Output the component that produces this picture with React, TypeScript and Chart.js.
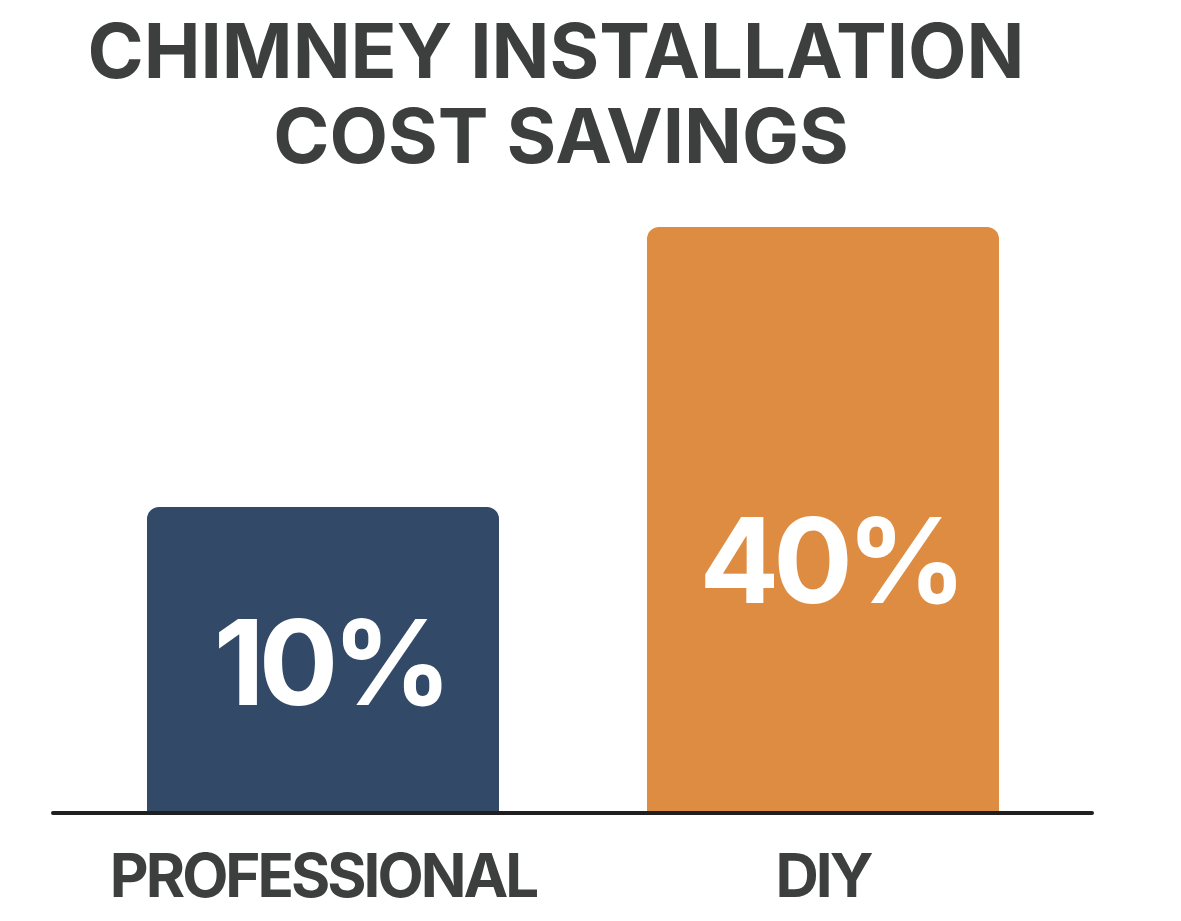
import React, { useEffect, useRef } from "react";
import { Chart, registerables } from "chart.js";

Chart.register(...registerables);

const categories = ["PROFESSIONAL", "DIY"];
const savings = [10, 40];
const valueLabels = ["10%", "40%"];
const barColors = ["#324a68", "#df8c43"];
const titleLines = ["CHIMNEY INSTALLATION", "COST SAVINGS"];

const FONT = "Inter, 'Noto Sans', 'DejaVu Sans', sans-serif";
const TEXT_COLOR = "#3c3f3e";

const spacingPlugin = {
  id: "tickSpacing",
  beforeDraw(chart: any) {
    chart.ctx.letterSpacing = "-3px";
  },
};

const titlePlugin = {
  id: "customTitle",
  afterDraw(chart: any) {
    const ctx = chart.ctx;
    ctx.save();
    ctx.letterSpacing = "0px";
    ctx.fillStyle = TEXT_COLOR;
    ctx.font = `700 76px ${FONT}`;
    ctx.textAlign = "center";
    ctx.textBaseline = "alphabetic";
    ctx.fillText(titleLines[0], 556, 78);
    ctx.fillText(titleLines[1], 561, 163);
    ctx.restore();
  },
};

const labelFractions = [0.49, 0.43];

const valueLabelPlugin = {
  id: "valueLabels",
  afterDatasetsDraw(chart: any) {
    const ctx = chart.ctx;
    const meta = chart.getDatasetMeta(0);
    ctx.save();
    ctx.letterSpacing = "-6px";
    ctx.fillStyle = "#ffffff";
    ctx.font = `700 118px ${FONT}`;
    ctx.textAlign = "center";
    ctx.textBaseline = "alphabetic";
    meta.data.forEach((bar: any, i: number) => {
      const cy = bar.base - labelFractions[i] * (bar.base - bar.y);
      ctx.fillText(valueLabels[i], bar.x + 7, cy + 43);
    });
    ctx.restore();
  },
};

const baselinePlugin = {
  id: "baseline",
  afterDatasetsDraw(chart: any) {
    const ctx = chart.ctx;
    const { left, right, bottom } = chart.chartArea;
    ctx.save();
    ctx.strokeStyle = "#1f1f1f";
    ctx.lineWidth = 4;
    ctx.lineCap = "round";
    ctx.beginPath();
    ctx.moveTo(left - 20, bottom + 2);
    ctx.lineTo(right + 19, bottom + 2);
    ctx.stroke();
    ctx.restore();
  },
};

export default function App() {
  const ref = useRef<HTMLCanvasElement | null>(null);

  useEffect(() => {
    if (!ref.current) return;
    const chart = new Chart(ref.current, {
      type: "bar",
      data: {
        labels: categories,
        datasets: [
          {
            data: savings,
            backgroundColor: barColors,
            borderRadius: { topLeft: 12, topRight: 12, bottomLeft: 0, bottomRight: 0 },
            borderSkipped: "bottom",
            base: -22.57,
            barPercentage: 0.704,
            categoryPercentage: 1,
          } as any,
        ],
      },
      options: {
        animation: false,
        responsive: false,
        layout: { padding: { top: 227, left: 73, right: 108, bottom: 0 } },
        plugins: {
          legend: { display: false },
          title: { display: false },
          tooltip: { enabled: false },
        },
        scales: {
          x: {
            grid: { display: false, drawTicks: false },
            border: { display: false },
            ticks: {
              color: TEXT_COLOR,
              font: { family: FONT, size: 60, weight: "bold" as any },
              padding: 32,
            },
            afterFit(scale: any) {
              scale.height = 110;
            },
          },
          y: {
            display: false,
            min: -22.57,
            max: 40,
          },
        },
      },
      plugins: [spacingPlugin, titlePlugin, valueLabelPlugin, baselinePlugin],
    });
    return () => chart.destroy();
  }, []);

  return (
    <div style={{ position: "fixed", left: 0, top: 0, width: 1181, height: 921, background: "#ffffff" }}>
      <canvas ref={ref} width={1181} height={921} style={{ display: "block" }} />
    </div>
  );
}
